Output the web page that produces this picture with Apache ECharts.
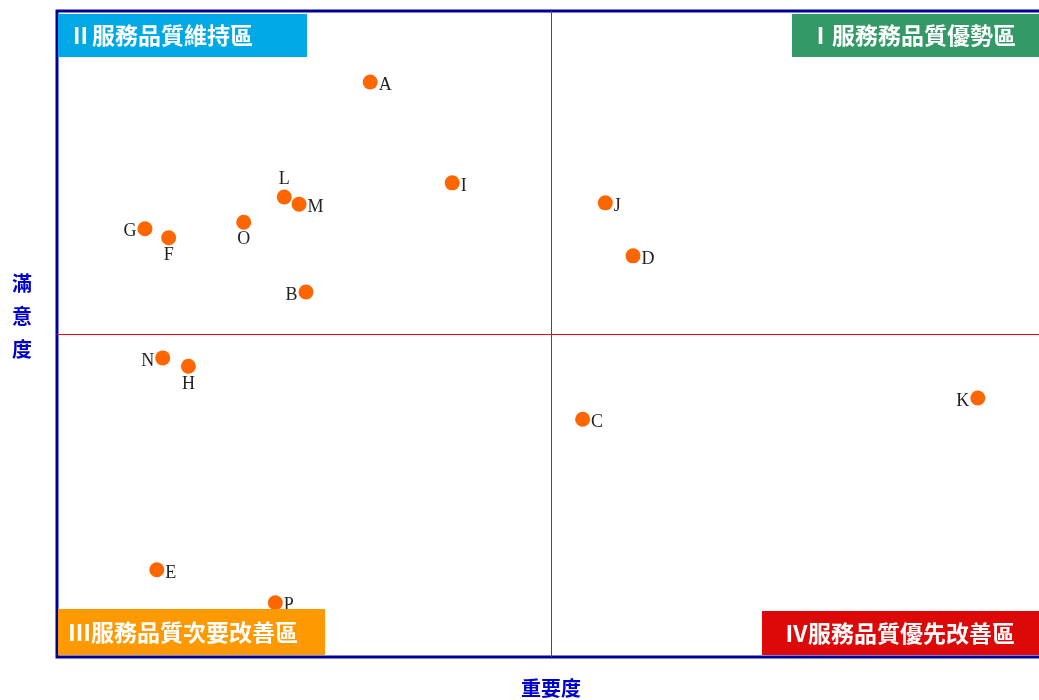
<!DOCTYPE html>
<html>
<head>
<meta charset="utf-8">
<script src="https://cdn.jsdelivr.net/npm/echarts@6/dist/echarts.min.js"></script>
<style>
  html, body { margin: 0; padding: 0; background: #fff; }
  #chart { width: 1039px; height: 700px; }
</style>
</head>
<body>
<div id="chart"></div>
<script>
// Service items and their importance / satisfaction scores (0-100 scale, mean = 50)
const itemNames    = ['A', 'B', 'C', 'D', 'E', 'F', 'G', 'H', 'I', 'J', 'K', 'L', 'M', 'N', 'O', 'P'];
const importance   = [31.7, 25.2, 53.2, 58.3, 10.1, 11.3, 8.9, 13.3, 40.0, 55.5, 93.2, 23.0, 24.5, 10.7, 18.9, 22.1];
const satisfaction = [89.0, 56.5, 36.8, 62.1, 13.5, 64.9, 66.3, 45.0, 73.4, 70.3, 40.1, 71.2, 70.1, 46.3, 67.3, 8.4];

// Quadrant divider values
const importanceMean = 50;
const satisfactionMean = 50;

// Quadrant titles
const quadrantTitles = {
  q1: 'Ⅰ服務務品質優勢區',
  q2: 'Ⅱ服務品質維持區',
  q3: 'Ⅲ服務品質次要改善區',
  q4: 'Ⅳ服務品質優先改善區'
};
const xAxisTitle = '重要度';
const yAxisTitle = '滿意度';

// Where each point's letter sits relative to its dot
const labelSide = {
  A: 'right', B: 'left', C: 'right', D: 'right', E: 'right', F: 'bottom',
  G: 'left', H: 'bottom', I: 'right', J: 'right', K: 'left', L: 'top',
  M: 'right', N: 'left', O: 'bottom', P: 'right'
};

const points = itemNames.map((n, i) => {
  const side = labelSide[n];
  const dy = (side === 'left' || side === 'right') ? 3 : 0;
  return {
    name: n,
    value: [importance[i], satisfaction[i]],
    label: { position: side, offset: [0, dy] }
  };
});

const chart = echarts.init(document.getElementById('chart'));

const titleFont = '"Noto Sans CJK TC", "Noto Sans CJK SC", sans-serif';

function quadrantBox(x, y, w, h, color, text, textX) {
  return {
    type: 'group',
    z: 100,
    children: [
      { type: 'rect', shape: { x: x, y: y, width: w, height: h }, style: { fill: color }, z: 100 },
      {
        type: 'text', x: textX, y: y + h / 2, z: 101,
        style: {
          text: text, fill: '#fff', font: 'bold 23px ' + titleFont,
          verticalAlign: 'middle', align: 'left'
        }
      }
    ]
  };
}

chart.setOption({
  animation: false,
  grid: {
    left: 57, top: 11, width: 988, height: 646,
    outerBoundsMode: 'none',
    show: true, borderColor: '#000099', borderWidth: 3, backgroundColor: '#fff'
  },
  xAxis: {
    type: 'value', min: 0, max: 100,
    axisLine: { show: false }, axisTick: { show: false }, axisLabel: { show: false }, splitLine: { show: false },
    name: xAxisTitle, nameLocation: 'middle', nameGap: 21,
    nameTextStyle: { color: '#0000CC', fontSize: 20, fontWeight: 'bold', fontFamily: titleFont }
  },
  yAxis: {
    type: 'value', min: 0, max: 100,
    axisLine: { show: false }, axisTick: { show: false }, axisLabel: { show: false }, splitLine: { show: false }
  },
  series: [{
    type: 'scatter',
    data: points,
    symbolSize: 15,
    itemStyle: { color: '#FF6600', opacity: 1 },
    label: {
      show: true,
      formatter: '{b}',
      color: '#222',
      fontSize: 18,
      fontFamily: '"Liberation Serif", "DejaVu Serif", serif',
      distance: 1
    },
    markLine: {
      silent: true,
      symbol: ['none', 'none'],
      label: { show: false },
      emphasis: { disabled: true },
      lineStyle: { color: '#FF0000', width: 1, type: 'solid', opacity: 1 },
      data: [
        [{ coord: [importanceMean, 0] }, { coord: [importanceMean, 100] }],
        [{ coord: [0, satisfactionMean] }, { coord: [100, satisfactionMean] }]
      ]
    }
  }],
  graphic: [
    {
      type: 'text', left: 12, top: 267, z: 50,
      style: {
        text: yAxisTitle.split('').join('\n'), fill: '#0000CC',
        font: 'bold 20px ' + titleFont, lineHeight: 33, align: 'center'
      }
    },
    quadrantBox(58, 14, 249, 43, '#00A8E6', quadrantTitles.q2, 69),
    quadrantBox(792, 14, 260, 43, '#339966', quadrantTitles.q1, 809),
    quadrantBox(58, 609, 267, 46, '#FF9900', quadrantTitles.q3, 68),
    quadrantBox(762, 611, 290, 44, '#DD0808', quadrantTitles.q4, 785)
  ]
});
</script>
</body>
</html>
